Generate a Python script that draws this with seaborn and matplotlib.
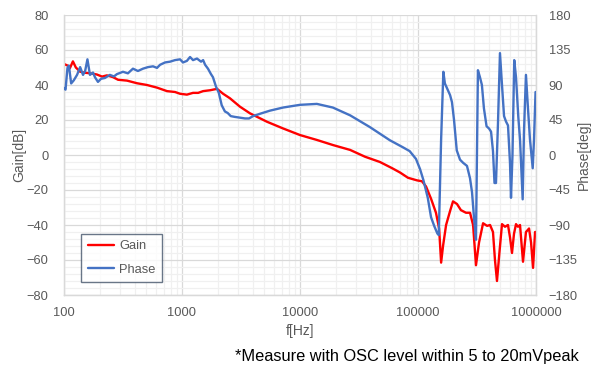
import numpy as np
import pandas as pd
import matplotlib
matplotlib.use("Agg")
import matplotlib.pyplot as plt
from matplotlib.ticker import LogLocator, MultipleLocator, FixedLocator, NullFormatter
import seaborn as sns

# Loop gain measurement: gain [dB] vs frequency
gain_freq = [100, 104, 108, 112, 119, 126, 137, 151, 166, 190, 210, 231, 260, 287, 342,
             416, 505, 614, 746, 873, 962, 1100, 1240, 1370, 1510, 1730, 1980, 2230, 2550,
             3100, 3770, 5250, 7170, 10000, 13900, 19000, 26600, 35600, 47600, 60200, 70400,
             82200, 98100, 108000, 117000, 129000, 142000, 151000, 157000, 163000, 173000,
             187000, 198000, 214000, 231000, 255000, 276000, 293000, 310000, 329000, 356000,
             385000, 408000, 432000, 449000, 467000, 491000, 515000, 546000, 579000, 602000,
             626000, 651000, 677000, 704000, 732000, 776000, 822000, 873000, 908000, 944000,
             982000, 1000000]
gain_db = [52, 51.5, 51, 49.5, 53.5, 50, 47.6, 47, 46.7, 46, 44.8, 45.5, 44.5, 43, 42.5,
           41, 40, 38.5, 36.5, 36, 35, 34.5, 35.5, 35.5, 36.5, 37, 37.8, 35, 32.4,
           27.6, 23.8, 19, 15.2, 11.4, 8.6, 5.7, 2.9, -1, -4, -7.5, -10,
           -13, -14.5, -15, -18, -25, -33, -42, -61.5, -52, -40,
           -32, -26.5, -28, -31.5, -33, -33, -40, -63, -50, -39,
           -40.5, -40, -44, -60, -72, -55, -39.5, -41, -40, -47,
           -56, -45, -39.5, -41, -40, -61, -44, -42, -50, -64.5,
           -44, -44]

# Phase [deg] vs frequency
phase_freq = [100, 103, 107, 110, 115, 121, 129, 137, 145, 151, 158, 166, 176, 183, 194,
              206, 222, 245, 265, 281, 316, 348, 384, 423, 467, 515, 568, 614, 652, 719,
              792, 873, 962, 1020, 1100, 1170, 1240, 1340, 1450, 1510, 1570, 1660, 1760,
              1830, 1940, 2050, 2170, 2310, 2440, 2590, 2800, 3100, 3420, 3700, 4000, 4580,
              5560, 7170, 10000, 13900, 19000, 26600, 39000, 57700, 74300, 85000, 96100,
              104000, 111000, 121000, 129000, 137000, 146000, 150000, 157000, 164000,
              169000, 176000, 187000, 194000, 202000, 213000, 227000, 241000, 260000,
              276000, 287000, 298000, 310000, 322000, 335000, 348000, 362000, 381000,
              400000, 416000, 432000, 445000, 458000, 476000, 495000, 515000, 536000,
              557000, 579000, 602000, 614000, 632000, 654000, 677000, 708000, 732000,
              771000, 791000, 822000, 855000, 889000, 938000, 962000, 991000]
phase_deg = [86, 84, 112, 115, 92, 96, 103, 113, 103, 108, 123, 103, 106, 100, 94,
             98, 99, 103, 101, 104, 107, 105, 111, 108, 111, 113, 114, 112, 116, 119,
             120, 122, 123, 119, 121, 126, 122, 124, 120, 122, 116, 111, 104,
             100, 88, 80, 64, 56, 54, 50, 49, 48, 47, 47, 50, 53,
             57, 61, 64.5, 65.7, 61, 51, 36, 19, 10, 5, -5,
             -18, -32, -55, -80, -91, -101, -103, 20, 107,
             92, 86, 77, 68, 45, 6, -6, -10, -14,
             -30, -48, -80, -109, 109, 100, 90, 60, 37,
             34, 30, 5, -36, -36, 40, 131, 90, 50,
             43, 38, -10, -55, 0, 122, 100, 49, 20,
             -57, 30, 103, 60, 20, -17, 20, 81]

gain_ticks = [-80, -60, -40, -20, 0, 20, 40, 60, 80]
phase_ticks = [-180, -135, -90, -45, 0, 45, 90, 135, 180]
freq_ticks = [100, 1000, 10000, 100000, 1000000]
freq_tick_labels = ["100", "1000", "10000", "100000", "1000000"]

gain_df = pd.DataFrame({"f": gain_freq, "Gain": gain_db})
phase_df = pd.DataFrame({"f": phase_freq, "Phase": phase_deg})

sns.set_theme(style="white")
plt.rcParams["font.family"] = ["Liberation Sans", "DejaVu Sans"]

TEXT = "#595959"
GRID_MAJOR = "#D9D9D9"
GRID_MINOR = "#F0F0F0"
RED = "#FF0000"
BLUE = "#4472C4"

fig = plt.figure(figsize=(5.99, 3.67), dpi=100)
ax = fig.add_axes([64 / 599, 1 - 295 / 367, 472 / 599, 280 / 367])
ax2 = ax.twinx()

sns.lineplot(data=gain_df, x="f", y="Gain", ax=ax, color=RED, linewidth=1.7,
             label="Gain", legend=False, zorder=3)
sns.lineplot(data=phase_df, x="f", y="Phase", ax=ax2, color=BLUE, linewidth=1.7,
             label="Phase", legend=False, zorder=3)

ax.set_xscale("log")
ax.set_xlim(100, 1000000)
ax.set_ylim(-80, 80)
ax2.set_ylim(-180, 180)

ax.xaxis.set_major_locator(FixedLocator(freq_ticks))
ax.set_xticklabels(freq_tick_labels)
ax.xaxis.set_minor_locator(LogLocator(base=10, subs=np.arange(2, 10), numticks=50))
ax.xaxis.set_minor_formatter(NullFormatter())
ax.set_yticks(gain_ticks)
ax.yaxis.set_minor_locator(MultipleLocator(4))
ax2.set_yticks(phase_ticks)

ax.grid(which="major", color=GRID_MAJOR, linewidth=0.9)
ax.grid(which="minor", color=GRID_MINOR, linewidth=0.9)
ax2.grid(False)
ax.set_axisbelow(True)

for a in (ax, ax2):
    a.spines["top"].set_visible(False)
    for side in ("left", "right", "bottom"):
        a.spines[side].set_color(GRID_MAJOR)
        a.spines[side].set_linewidth(0.9)
    a.tick_params(which="both", length=0, labelsize=9.3, labelcolor=TEXT)
ax.tick_params(axis="y", pad=11)
ax.tick_params(axis="x", pad=9)
ax2.tick_params(axis="y", pad=9)

ax.set_xlabel("f[Hz]", fontsize=10, color=TEXT)
ax.set_ylabel("Gain[dB]", fontsize=10, color=TEXT)
ax2.set_ylabel("Phase[deg]", fontsize=10, color=TEXT)
ax.xaxis.set_label_coords(0.5, -0.104)
ax.yaxis.set_label_coords(-0.079, 0.5)
ax2.yaxis.set_label_coords(1.087, 0.5)

h1, l1 = ax.get_legend_handles_labels()
h2, l2 = ax2.get_legend_handles_labels()
leg = ax2.legend(h1 + h2, l1 + l2, loc="lower left", bbox_to_anchor=(0.037, 0.045),
                 frameon=True, fancybox=False, fontsize=9.3, handlelength=2.0,
                 borderpad=0.5, labelspacing=0.9, handletextpad=0.4, borderaxespad=0)
leg.get_frame().set_edgecolor("#44546A")
leg.get_frame().set_linewidth(1.0)
for t in leg.get_texts():
    t.set_color(TEXT)

fig.text(235 / 599, 1 - 356 / 367, "*Measure with OSC level within 5 to 20mVpeak",
         ha="left", va="center", fontsize=11.8, color="black")

fig.savefig("out.png", dpi=100)
